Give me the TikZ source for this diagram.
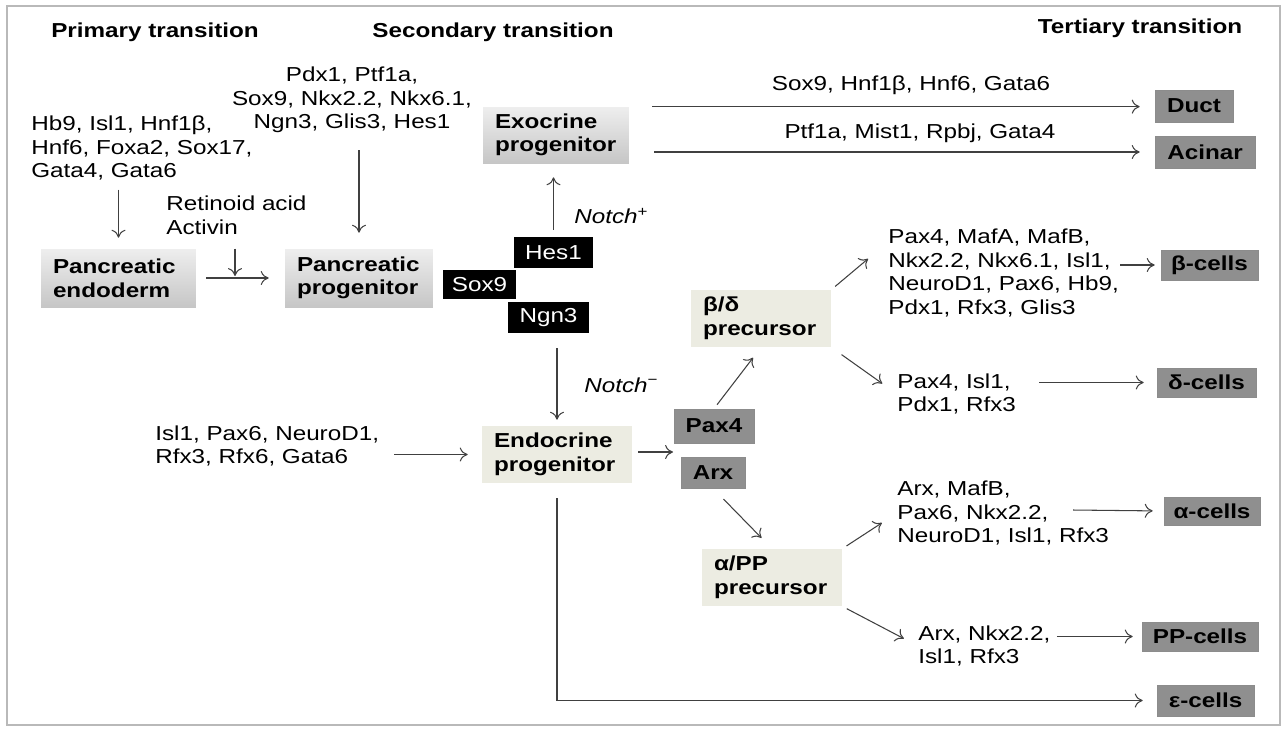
\documentclass[tikz,border=0pt]{standalone}
\usepackage{fontspec}
\setmainfont{Liberation Sans}[FakeStretch=1.2]
\usetikzlibrary{arrows.meta}
\definecolor{boxtop}{RGB}{238,238,238}
\definecolor{boxbot}{RGB}{198,198,198}
\definecolor{beige}{RGB}{236,236,226}
\definecolor{cellgrey}{RGB}{143,143,143}
\definecolor{framegrey}{RGB}{185,185,185}

\begin{document}
\begin{tikzpicture}[x=0.02cm, y=-0.02cm,
    font=\fontsize{11.5}{13.4}\selectfont,
    arr/.style={-{To[length=4.5pt,width=8pt]}, line width=0.6pt, draw=black!75},
    txt/.style={align=left, inner sep=0pt},
    title/.style={font=\fontsize{11.5}{13.4}\selectfont\bfseries, inner sep=0pt},
    progbox/.style={top color=boxtop, bottom color=boxbot, font=\fontsize{11.5}{13.4}\selectfont\bfseries, align=left, inner xsep=0.24cm, inner ysep=0pt},
    precbox/.style={fill=beige, font=\fontsize{11.5}{13.4}\selectfont\bfseries, align=left, inner xsep=0.24cm, inner ysep=0pt},
    tfbox/.style={fill=black, text=white, inner sep=0pt},
    cellbox/.style={fill=cellgrey, draw=black!45, line width=0.4pt, font=\fontsize{11.5}{13.4}\selectfont\bfseries, inner sep=0pt},
    notch/.style={font=\fontsize{11.5}{13.4}\selectfont\itshape, inner sep=0pt, anchor=west}]

        \useasboundingbox (0,0) rectangle (1284,728);
        \draw[framegrey, line width=0.8pt] (7,6) rectangle (1280,725);

        % Stage titles
        \node[title] (prim) at (155,32) {Primary transition};
        \node[title] (sec) at (493,32) {Secondary transition};
        \node[title] (tert) at (1140,28) {Tertiary transition};

        % Factor lists
        \node[txt, anchor=west] (hbtxt) at (31,148) {Hb9, Isl1, Hnf1β,\\Hnf6, Foxa2, Sox17,\\Gata4, Gata6};
        \node[txt, anchor=west] (ratxt) at (166,215) {Retinoid acid\\Activin};
        \node[txt, align=center] (pdxtxt) at (352,100) {Pdx1, Ptf1a,\\Sox9, Nkx2.2, Nkx6.1,\\Ngn3, Glis3, Hes1};
        \node[txt, anchor=west] (isltxt) at (155,446) {Isl1, Pax6, NeuroD1,\\Rfx3, Rfx6, Gata6};
        \node[txt] (ductlbl) at (911,85) {Sox9, Hnf1β, Hnf6, Gata6};
        \node[txt] (acinlbl) at (920,133) {Ptf1a, Mist1, Rpbj, Gata4};
        \node[txt, anchor=west] (betatxt) at (888,273) {Pax4, MafA, MafB,\\Nkx2.2, Nkx6.1, Isl1,\\NeuroD1, Pax6, Hb9,\\Pdx1, Rfx3, Glis3};
        \node[txt, anchor=west] (deltatxt) at (897,394) {Pax4, Isl1,\\Pdx1, Rfx3};
        \node[txt, anchor=west] (alphatxt) at (897,513) {Arx, MafB,\\Pax6, Nkx2.2,\\NeuroD1, Isl1, Rfx3};
        \node[txt, anchor=west] (pptxt) at (918,646) {Arx, Nkx2.2,\\Isl1, Rfx3};
        \node[notch] (notchp) at (574,216) {Notch\textsuperscript{\upshape +}};
        \node[notch] (notchm) at (584,385) {Notch\textsuperscript{\upshape −}};

        % Progenitor boxes
        \node[progbox, text width=2.62cm, minimum height=1.16cm] (endo) at (118.5,278) {Pancreatic\\endoderm};
        \node[progbox, text width=2.48cm, minimum height=1.16cm] (pprog) at (359,278) {Pancreatic\\progenitor};
        \node[progbox, text width=2.44cm, minimum height=1.12cm] (exo) at (556,135) {Exocrine\\progenitor};
        \node[precbox, text width=2.52cm, minimum height=1.14cm] (endoc) at (557,454.5) {Endocrine\\progenitor};
        \node[precbox, text width=2.32cm, minimum height=1.14cm] (bd) at (761,318.5) {β/δ\\precursor};
        \node[precbox, text width=2.32cm, minimum height=1.14cm] (app) at (772,577.5) {α/PP\\precursor};

        % Black factor boxes
        \node[tfbox, minimum width=1.58cm, minimum height=0.62cm] (hes) at (553.5,252.5) {Hes1};
        \node[tfbox, minimum width=1.46cm, minimum height=0.58cm] (sox) at (479.5,284.5) {Sox9};
        \node[tfbox, minimum width=1.62cm, minimum height=0.62cm] (ngn) at (548.5,317.5) {Ngn3};

        % Grey boxes
        \node[cellbox, minimum width=1.6cm, minimum height=0.68cm] (pax) at (714,426) {Pax4};
        \node[cellbox, minimum width=1.28cm, minimum height=0.62cm] (arx) at (713,472.5) {Arx};
        \node[cellbox, minimum width=1.56cm, minimum height=0.64cm] (duct) at (1194,106) {Duct};
        \node[cellbox, minimum width=2.0cm, minimum height=0.64cm] (acinar) at (1205,152) {Acinar};
        \node[cellbox, minimum width=1.94cm, minimum height=0.6cm] (beta) at (1209.5,265) {β-cells};
        \node[cellbox, minimum width=1.98cm, minimum height=0.58cm] (delta) at (1206.5,382.5) {δ-cells};
        \node[cellbox, minimum width=1.92cm, minimum height=0.56cm] (alpha) at (1212,511) {α-cells};
        \node[cellbox, minimum width=2.32cm, minimum height=0.58cm] (pp) at (1200,636.5) {PP-cells};
        \node[cellbox, minimum width=1.94cm, minimum height=0.62cm] (eps) at (1205.5,700.5) {ε-cells};

        % Free arrow ends
        \coordinate (rajoin) at (235,276);
        \coordinate (split) at (673,452);
        \coordinate (alphain) at (1073,510);

        % Primary transition
        \draw[arr, shorten <=0.18cm, shorten >=0.22cm] (hbtxt.south -| endo.north) -- (endo.north);
        \draw[arr, shorten <=0.2cm, shorten >=0.32cm] (endo.east) -- (pprog.west);
        \draw[arr, shorten <=0.28cm] (ratxt.south -| rajoin) -- (rajoin);
        \draw[arr, shorten <=0.34cm, shorten >=0.32cm] (pdxtxt.south -| pprog.north) -- (pprog.north);

        % Secondary transition
        \draw[arr, shorten <=0.14cm, shorten >=0.28cm] (hes.north) -- (hes.north |- exo.south);
        \draw[arr, shorten <=0.3cm, shorten >=0.12cm] (ngn.south -| endoc.north) -- (endoc.north);
        \draw[arr, shorten <=0.3cm, shorten >=0.28cm] (isltxt.east |- endoc.west) -- (endoc.west);
        \draw[arr, shorten <=0.12cm] (endoc.east |- split) -- (split);

        % Exocrine lineages
        \draw[arr, shorten <=0.46cm, shorten >=0.3cm] (exo.north east) -- (exo.north east -| duct.west);
        \draw[arr, shorten <=0.5cm, shorten >=0.3cm] (exo.east |- acinar.west) -- (acinar.west);

        % Endocrine branches
        \draw[arr, shorten <=0.1cm, shorten >=0.26cm] (pax.north) -- (bd.south);
        \draw[arr, shorten <=0.3cm, shorten >=0.3cm] (arx.south) -- (app.north);
        \draw[arr, shorten <=0.1cm, shorten >=0.52cm] (bd.north east) -- (betatxt.165);
        \draw[arr, shorten <=0.25cm, shorten >=0.36cm] (bd.south east) -- (deltatxt.west);
        \draw[arr, shorten <=0.1cm, shorten >=0.36cm] (app.north east) -- (alphatxt.west);
        \draw[arr, shorten <=0.1cm, shorten >=0.32cm] (app.south east) -- (pptxt.west);

        % Tertiary transition
        \draw[arr, shorten <=0.02cm, shorten >=0.12cm] (betatxt.east |- beta.west) -- (beta.west);
        \draw[arr, shorten <=0.46cm, shorten >=0.26cm] (deltatxt.east |- delta.west) -- (delta.west);
        \draw[arr, shorten >=0.22cm] (alphain) -- (alpha.west);
        \draw[arr, shorten <=0.12cm, shorten >=0.18cm] (pptxt.east |- pp.west) -- (pp.west);
        \draw[arr, shorten <=0.3cm, shorten >=0.28cm] (endoc.south) -- (endoc.south |- eps.west) -- (eps.west);

\end{tikzpicture}
\end{document}
